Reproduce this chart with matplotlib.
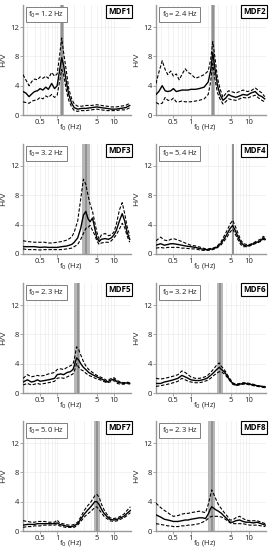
import matplotlib
matplotlib.use("Agg")
import matplotlib.pyplot as plt
from matplotlib.ticker import LogLocator, NullFormatter, FixedLocator

plt.rcParams['font.family'] = ['Open Sans', 'DejaVu Sans']

# ---- data (frequency in Hz, H/V amplitude) ----
f_mdf1 = [0.25, 0.28, 0.32, 0.36, 0.4, 0.45, 0.5, 0.56, 0.63, 0.7, 0.8, 0.9, 1.0, 1.1, 1.2, 1.3, 1.45, 1.6,
          1.8, 2.0, 2.3, 2.7, 3.2, 4.0, 5.0, 6.0, 7.5, 9.0, 11, 13, 16, 19]
hv_mdf1 = [3.2, 3.0, 2.5, 2.9, 3.2, 3.3, 3.6, 3.4, 3.8, 3.5, 4.3, 3.6, 4.0, 6.0, 7.8, 6.8, 4.5, 2.8,
           1.6, 1.0, 0.8, 0.9, 0.9, 1.0, 1.1, 1.0, 0.9, 0.8, 0.8, 0.9, 1.0, 1.3]
hi_mdf1 = [5.5, 4.8, 4.0, 4.6, 4.9, 4.8, 5.2, 5.0, 5.3, 5.0, 5.8, 5.3, 5.6, 8.0, 10.5, 8.5, 6.0, 3.6,
           2.2, 1.5, 1.2, 1.2, 1.3, 1.3, 1.4, 1.3, 1.2, 1.1, 1.1, 1.2, 1.3, 1.6]
lo_mdf1 = [1.8, 1.7, 1.6, 1.9, 2.0, 2.1, 2.4, 2.2, 2.6, 2.4, 2.8, 2.4, 2.7, 4.5, 6.2, 5.5, 3.4, 2.0,
           1.1, 0.6, 0.5, 0.6, 0.6, 0.7, 0.8, 0.7, 0.6, 0.6, 0.6, 0.7, 0.7, 1.0]

f_mdf2 = [0.25, 0.28, 0.32, 0.36, 0.4, 0.45, 0.5, 0.56, 0.63, 0.7, 0.8, 0.9, 1.0, 1.2, 1.4, 1.7, 2.0, 2.2,
          2.4, 2.6, 2.9, 3.2, 3.6, 4.0, 4.5, 5.0, 6.0, 7.0, 8.0, 9.5, 11, 13, 15, 17, 19]
hv_mdf2 = [2.8, 3.2, 4.0, 3.3, 3.2, 3.3, 3.6, 3.2, 3.3, 3.4, 3.4, 3.4, 3.5, 3.5, 3.6, 3.8, 4.5, 6.0,
           8.5, 6.5, 4.0, 2.8, 2.0, 2.3, 2.8, 2.6, 2.4, 2.6, 2.8, 2.7, 3.0, 3.2, 2.7, 2.5, 2.2]
hi_mdf2 = [4.3, 5.8, 7.4, 6.2, 5.5, 6.0, 5.3, 5.6, 4.8, 5.5, 6.3, 5.8, 5.6, 5.0, 5.2, 5.5, 6.0, 7.5,
           10.0, 8.0, 5.0, 3.6, 2.4, 2.9, 3.3, 3.2, 3.0, 3.2, 3.4, 3.2, 3.3, 3.7, 3.3, 3.0, 2.5]
lo_mdf2 = [1.7, 1.5, 1.6, 2.4, 2.0, 2.0, 2.3, 1.8, 1.8, 1.9, 1.8, 1.8, 1.8, 1.9, 2.0, 2.2, 2.8, 4.5,
           7.0, 5.0, 3.0, 2.2, 1.5, 1.8, 2.2, 2.1, 2.0, 2.2, 2.4, 2.3, 2.5, 2.7, 2.3, 2.0, 1.8]

f_mdf3 = [0.25, 0.3, 0.4, 0.5, 0.6, 0.7, 0.8, 1.0, 1.2, 1.5, 1.8, 2.0, 2.3, 2.6, 2.9, 3.2, 3.5,
          3.8, 4.2, 4.6, 5.0, 5.5, 6.0, 7.0, 8.0, 9.0, 10, 11, 12.5, 14, 15.5, 17, 19]
hv_mdf3 = [1.0, 1.0, 1.0, 0.9, 0.95, 0.9, 0.9, 0.9, 1.0, 1.1, 1.3, 1.6, 2.2, 3.5, 5.3, 5.8, 4.8,
           4.4, 4.9, 3.5, 2.2, 1.7, 2.0, 2.1, 2.0, 2.2, 2.6, 3.2, 4.5, 5.5, 4.5, 3.0, 2.0]
hi_mdf3 = [1.8, 1.7, 1.6, 1.6, 1.6, 1.5, 1.5, 1.6, 1.7, 1.9, 2.3, 3.0, 4.5, 7.5, 10.2, 9.5, 8.0,
           6.8, 5.8, 4.3, 3.0, 2.0, 2.6, 2.8, 2.5, 2.6, 3.0, 4.0, 6.0, 7.0, 5.5, 3.8, 2.5]
lo_mdf3 = [0.7, 0.6, 0.6, 0.55, 0.6, 0.6, 0.6, 0.6, 0.6, 0.7, 0.8, 1.0, 1.3, 2.0, 2.8, 3.5, 3.6,
           3.9, 3.2, 2.6, 1.8, 1.3, 1.5, 1.6, 1.6, 1.8, 2.2, 2.6, 3.4, 4.2, 3.6, 2.5, 1.6]

f_mdf4 = [0.25, 0.3, 0.35, 0.4, 0.45, 0.5, 0.6, 0.7, 0.8, 1.0, 1.2, 1.5, 1.8, 2.0, 2.4, 2.8, 3.3,
          3.8, 4.3, 4.8, 5.3, 5.8, 6.5, 7.3, 8.2, 9.2, 10.5, 12, 14, 16, 18, 19.5]
hv_mdf4 = [1.2, 1.4, 1.2, 1.3, 1.4, 1.4, 1.3, 1.2, 1.1, 1.0, 0.9, 0.7, 0.6, 0.6, 0.7, 0.9, 1.4,
           2.1, 2.8, 3.5, 3.9, 3.3, 2.4, 1.6, 1.2, 1.1, 1.2, 1.4, 1.6, 1.8, 2.2, 2.0]
hi_mdf4 = [1.8, 2.3, 1.9, 1.8, 2.0, 2.1, 1.9, 1.7, 1.5, 1.2, 1.1, 0.9, 0.7, 0.7, 0.8, 1.0, 1.6,
           2.5, 3.3, 4.1, 4.6, 3.9, 2.9, 1.9, 1.4, 1.3, 1.3, 1.5, 1.8, 2.0, 2.4, 2.2]
lo_mdf4 = [0.8, 0.9, 0.8, 0.9, 0.9, 0.9, 0.9, 0.8, 0.8, 0.7, 0.7, 0.5, 0.5, 0.5, 0.6, 0.8, 1.2,
           1.8, 2.4, 3.0, 3.4, 2.8, 2.0, 1.3, 1.0, 1.0, 1.1, 1.3, 1.5, 1.7, 2.0, 1.9]

f_mdf5 = [0.25, 0.3, 0.35, 0.4, 0.45, 0.5, 0.6, 0.7, 0.8, 0.9, 1.0, 1.15, 1.3, 1.5, 1.7, 1.9, 2.05,
          2.2, 2.4, 2.6, 2.9, 3.2, 3.6, 4.2, 5.0, 5.7, 6.5, 7.5, 8.5, 10, 11.5, 13, 15, 17, 19]
hv_mdf5 = [1.5, 1.8, 1.5, 1.6, 1.8, 1.6, 1.7, 1.8, 1.9, 2.0, 2.5, 2.6, 2.5, 2.8, 2.9, 3.2, 4.0,
           4.8, 4.5, 4.0, 3.5, 3.2, 2.8, 2.5, 2.2, 2.0, 1.8, 1.5, 1.7, 1.9, 1.5, 1.4, 1.3, 1.4, 1.3]
hi_mdf5 = [2.0, 2.5, 2.2, 2.3, 2.4, 2.3, 2.4, 2.6, 2.7, 2.8, 3.2, 3.3, 3.2, 3.5, 3.7, 3.9, 5.0,
           6.3, 5.9, 5.2, 4.3, 3.7, 3.2, 2.8, 2.4, 2.2, 2.0, 1.7, 1.9, 2.1, 1.7, 1.5, 1.4, 1.5, 1.4]
lo_mdf5 = [1.1, 1.3, 1.1, 1.2, 1.3, 1.2, 1.3, 1.4, 1.5, 1.6, 2.0, 2.1, 2.0, 2.2, 2.4, 2.6, 3.2,
           4.0, 3.5, 3.2, 3.0, 2.7, 2.4, 2.2, 1.9, 1.8, 1.6, 1.4, 1.5, 1.7, 1.3, 1.2, 1.2, 1.3, 1.2]

f_mdf6 = [0.25, 0.3, 0.35, 0.4, 0.45, 0.5, 0.6, 0.7, 0.8, 0.9, 1.0, 1.2, 1.4, 1.6, 1.9, 2.2, 2.5,
          2.8, 3.1, 3.4, 3.8, 4.2, 4.7, 5.3, 6.0, 7.0, 8.0, 9.0, 10.5, 12, 14, 17, 19.5]
hv_mdf6 = [1.3, 1.3, 1.5, 1.6, 1.7, 1.8, 2.0, 2.4, 2.2, 2.0, 1.8, 1.7, 1.7, 1.8, 2.0, 2.4, 2.8,
           3.2, 3.5, 3.2, 2.9, 2.4, 1.8, 1.3, 1.1, 1.2, 1.3, 1.3, 1.2, 1.1, 1.0, 0.9, 0.8]
hi_mdf6 = [2.0, 1.9, 2.0, 2.1, 2.2, 2.3, 2.5, 3.0, 2.8, 2.5, 2.2, 2.0, 2.0, 2.1, 2.3, 2.8, 3.3,
           3.8, 4.1, 3.6, 3.2, 2.6, 2.0, 1.4, 1.2, 1.3, 1.4, 1.4, 1.3, 1.2, 1.0, 0.9, 0.9]
lo_mdf6 = [0.9, 1.0, 1.1, 1.2, 1.3, 1.4, 1.6, 2.0, 1.8, 1.6, 1.5, 1.4, 1.4, 1.5, 1.7, 2.0, 2.4,
           2.7, 2.9, 2.9, 2.6, 2.2, 1.7, 1.2, 1.0, 1.1, 1.2, 1.2, 1.1, 1.0, 0.9, 0.8, 0.7]

f_mdf7 = [0.25, 0.3, 0.35, 0.4, 0.45, 0.5, 0.6, 0.7, 0.8, 0.9, 1.0, 1.1, 1.25, 1.4, 1.6, 1.8, 2.0,
          2.3, 2.6, 3.0, 3.4, 3.8, 4.2, 4.6, 5.0, 5.5, 6.0, 6.7, 7.5, 8.5, 10, 11.5, 13, 15, 17, 19.5]
hv_mdf7 = [0.8, 0.9, 0.9, 0.9, 1.0, 1.0, 1.0, 1.0, 1.0, 1.0, 1.1, 0.9, 0.8, 0.7, 0.6, 0.6, 0.7,
           1.0, 1.6, 2.3, 2.8, 3.2, 3.6, 4.0, 4.0, 3.6, 3.0, 2.4, 2.0, 1.6, 1.5, 1.6, 1.8, 2.0, 2.4, 2.8]
hi_mdf7 = [1.4, 1.3, 1.2, 1.2, 1.3, 1.3, 1.3, 1.2, 1.2, 1.2, 1.5, 1.1, 1.0, 0.9, 0.8, 0.8, 0.9,
           1.2, 1.9, 2.8, 3.4, 3.8, 4.3, 4.8, 5.0, 4.6, 3.7, 2.9, 2.3, 1.8, 1.7, 1.8, 2.0, 2.3, 2.8, 3.3]
lo_mdf7 = [0.5, 0.6, 0.6, 0.7, 0.7, 0.7, 0.8, 0.8, 0.8, 0.8, 0.9, 0.7, 0.6, 0.5, 0.5, 0.5, 0.5,
           0.8, 1.3, 1.9, 2.3, 2.6, 2.9, 3.2, 3.3, 2.9, 2.5, 2.0, 1.7, 1.4, 1.3, 1.4, 1.6, 1.8, 2.1, 2.5]

f_mdf8 = [0.25, 0.3, 0.35, 0.4, 0.45, 0.5, 0.6, 0.7, 0.8, 0.9, 1.0, 1.2, 1.4, 1.6, 1.8, 2.0, 2.15,
          2.3, 2.5, 2.7, 3.0, 3.4, 3.8, 4.3, 4.8, 5.3, 6.0, 7.0, 8.0, 9.0, 10.5, 12, 14, 16.5, 19.5]
hv_mdf8 = [2.2, 1.9, 1.6, 1.5, 1.4, 1.3, 1.3, 1.4, 1.5, 1.5, 1.6, 1.7, 1.8, 1.8, 1.7, 2.3, 2.9,
           3.3, 3.1, 2.9, 2.7, 2.4, 2.0, 1.6, 1.2, 1.2, 1.4, 1.5, 1.3, 1.2, 1.2, 1.1, 1.2, 1.0, 0.8]
hi_mdf8 = [3.8, 3.2, 2.8, 2.5, 2.2, 2.0, 2.1, 2.3, 2.4, 2.4, 2.5, 2.6, 2.7, 2.6, 2.5, 3.6, 4.6,
           5.6, 5.0, 4.4, 3.6, 3.0, 2.5, 2.0, 1.5, 1.5, 1.8, 2.0, 1.7, 1.5, 1.4, 1.4, 1.4, 1.2, 1.0]
lo_mdf8 = [1.0, 0.9, 0.8, 0.7, 0.7, 0.6, 0.6, 0.7, 0.7, 0.8, 0.8, 0.9, 1.0, 1.2, 1.4, 1.7, 1.9,
           2.0, 2.0, 2.0, 2.0, 1.9, 1.7, 1.4, 1.1, 1.0, 1.0, 1.0, 1.0, 0.9, 0.8, 0.8, 0.8, 0.7, 0.6]

stations = ['MDF1', 'MDF2', 'MDF3', 'MDF4', 'MDF5', 'MDF6', 'MDF7', 'MDF8']
f0_labels = ['1.2', '2.4', '3.2', '5.4', '2.3', '3.2', '5.0', '2.3']
f0_values = [1.2, 2.4, 3.2, 5.4, 2.3, 3.2, 5.0, 2.3]
f0_low = [1.12, 2.26, 2.78, 5.2, 2.0, 2.82, 4.5, 2.02]
f0_high = [1.30, 2.58, 3.78, 5.7, 2.55, 3.6, 5.7, 2.64]

freqs = [f_mdf1, f_mdf2, f_mdf3, f_mdf4, f_mdf5, f_mdf6, f_mdf7, f_mdf8]
means = [hv_mdf1, hv_mdf2, hv_mdf3, hv_mdf4, hv_mdf5, hv_mdf6, hv_mdf7, hv_mdf8]
uppers = [hi_mdf1, hi_mdf2, hi_mdf3, hi_mdf4, hi_mdf5, hi_mdf6, hi_mdf7, hi_mdf8]
lowers = [lo_mdf1, lo_mdf2, lo_mdf3, lo_mdf4, lo_mdf5, lo_mdf6, lo_mdf7, lo_mdf8]

W, H = 273, 550
fig = plt.figure(figsize=(W / 100, H / 100), dpi=100)

col_left = [23, 156]
col_width = [108, 110]
row_base = [115, 254, 393, 531]   # pixel row of the H/V = 0 line
ax_h = 110

axis_grey = '#9a9a9a'

for i, name in enumerate(stations):
    r, c = divmod(i, 2)
    ax = fig.add_axes([col_left[c] / W, (H - row_base[r]) / H, col_width[c] / W, ax_h / H])

    # f0 band
    ax.axvspan(f0_low[i], f0_high[i], color='#b8b8b8', lw=0, zorder=1)
    ax.axvline(f0_values[i], color='#8f8f8f', lw=1.3, zorder=1)

    ax.plot(freqs[i], uppers[i], color='black', lw=0.8, dashes=(3, 1.6), zorder=3)
    ax.plot(freqs[i], lowers[i], color='black', lw=0.8, dashes=(3, 1.6), zorder=3)
    ax.plot(freqs[i], means[i], color='black', lw=1.0, zorder=4)

    ax.set_xscale('log')
    ax.set_xlim(0.25, 20)
    ax.set_ylim(0, 15)

    ax.xaxis.set_major_locator(FixedLocator([0.5, 1, 5, 10]))
    ax.set_xticklabels(['0.5', '1', '5', '10'])
    ax.xaxis.set_minor_locator(LogLocator(base=10, subs=range(2, 10)))
    ax.xaxis.set_minor_formatter(NullFormatter())
    ax.set_yticks([0, 4, 8, 12])

    ax.grid(True, which='both', axis='x', color='#ededed', lw=0.5, zorder=0)
    ax.grid(True, which='major', axis='y', color='#ededed', lw=0.5, zorder=0)
    ax.set_axisbelow(True)

    for s in ['top', 'right']:
        ax.spines[s].set_visible(False)
    for s in ['left', 'bottom']:
        ax.spines[s].set_color(axis_grey)
        ax.spines[s].set_linewidth(1.0)

    ax.tick_params(axis='both', which='major', labelsize=5.5, length=2, width=0.6,
                   color=axis_grey, pad=1, labelcolor='#222222')
    ax.tick_params(axis='x', which='minor', length=0)

    ax.set_ylabel('H/V', fontsize=6, color='#222222', labelpad=2)
    ax.set_xlabel('f$_0$ (Hz)', fontsize=5.5, color='#222222')
    ax.xaxis.set_label_coords(0.445, -0.06)

    ax.text(0.05, 0.915, 'f$_0$= ' + f0_labels[i] + ' Hz', transform=ax.transAxes,
            fontsize=5.5, ha='left', va='center', color='#222222', zorder=6,
            bbox=dict(boxstyle='square,pad=0.3', fc='white', ec='#808080', lw=0.7))
    ax.text(0.995, 0.94, name, transform=ax.transAxes, fontsize=5.8, fontweight='bold',
            ha='right', va='center', color='black', zorder=6,
            bbox=dict(boxstyle='square,pad=0.25', fc='white', ec='black', lw=0.8))

fig.savefig('out.png', dpi=100)
